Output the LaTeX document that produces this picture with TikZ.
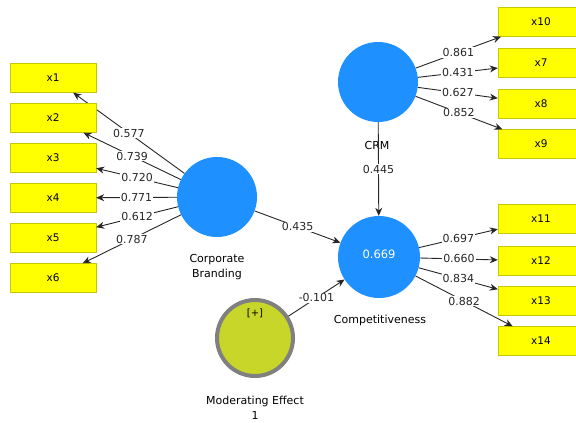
\documentclass[tikz,border=0pt]{standalone}
\usepackage{fontspec}
\setmainfont{DejaVu Sans}
\usetikzlibrary{arrows.meta}

\definecolor{plsblue}{RGB}{30,144,255}
\definecolor{plsyellow}{RGB}{255,255,0}
\definecolor{plsedge}{RGB}{200,200,0}
\definecolor{modfill}{RGB}{200,214,42}
\definecolor{modedge}{RGB}{128,128,128}

\tikzset{
	indicator/.style={draw=plsedge, fill=plsyellow, minimum width=86pt, minimum height=29pt, inner sep=0pt, font=\fontsize{10.5}{12}\selectfont},
	construct/.style={circle, fill=plsblue, minimum size=80pt, inner sep=0pt},
	loading/.style={-{Stealth[length=8pt,width=7pt]}, black!85, line width=0.9pt},
	weight/.style={fill=white, inner sep=1pt, font=\fontsize{11}{13}\selectfont},
	caption/.style={align=center, font=\fontsize{11}{15}\selectfont}
}

\begin{document}
\begin{tikzpicture}[x=1pt, y=-1pt]
	\useasboundingbox
		(0,0) rectangle (576,423);

	\node [construct] (branding) at (217,197) {};
	\node [construct] (crm) at (378,82) {};
	\node [construct, minimum size=82pt] (comp) at (379,257) {};
	\node [circle, draw=modedge, line width=4pt, fill=modfill, minimum size=76pt] (moderator) at (255,338) {};

	\node [text=white, font=\fontsize{11.5}{13}\selectfont] (rsquare) at (379,254) {0.669};
	\node [font=\fontsize{10}{12}\selectfont] (modplus) at (255,313) {[+]};

	\node [caption] (brandingname) at (217,267) {Corporate\\Branding};
	\node [caption] (crmname) at (377,145) {CRM};
	\node [caption] (compname) at (380,320) {Competitiveness};
	\node [caption] (modname) at (255,408) {Moderating Effect\\1};

	\foreach \i/\y/\w in {1/78/0.577, 2/118/0.739, 3/158/0.720, 4/198/0.771, 5/238/0.612, 6/278/0.787}
	{
		\node [indicator] (x\i) at (53,\y) {x\i};
		\draw [loading]
			(branding) -- node [weight] {\w} (x\i);
	}

	\foreach \i/\y/\w in {10/22/0.861, 7/63/0.431, 8/104/0.627, 9/144/0.852}
	{
		\node [indicator] (x\i) at (541,\y) {x\i};
		\draw [loading]
			(crm) -- node [weight] {\w} (x\i);
	}

	\foreach \i/\y/\w in {11/219/0.697, 12/261/0.660, 13/301/0.834, 14/341/0.882}
	{
		\node [indicator] (x\i) at (541,\y) {x\i};
		\draw [loading]
			(comp) -- node [weight] {\w} (x\i);
	}

	\draw [loading]
		(branding) -- node [weight] {0.435} (comp);

	\draw [loading]
		(crm) -- node [weight] {0.445} (comp);

	\draw [loading]
		(moderator) -- node [weight] {-0.101} (comp);
\end{tikzpicture}
\end{document}
